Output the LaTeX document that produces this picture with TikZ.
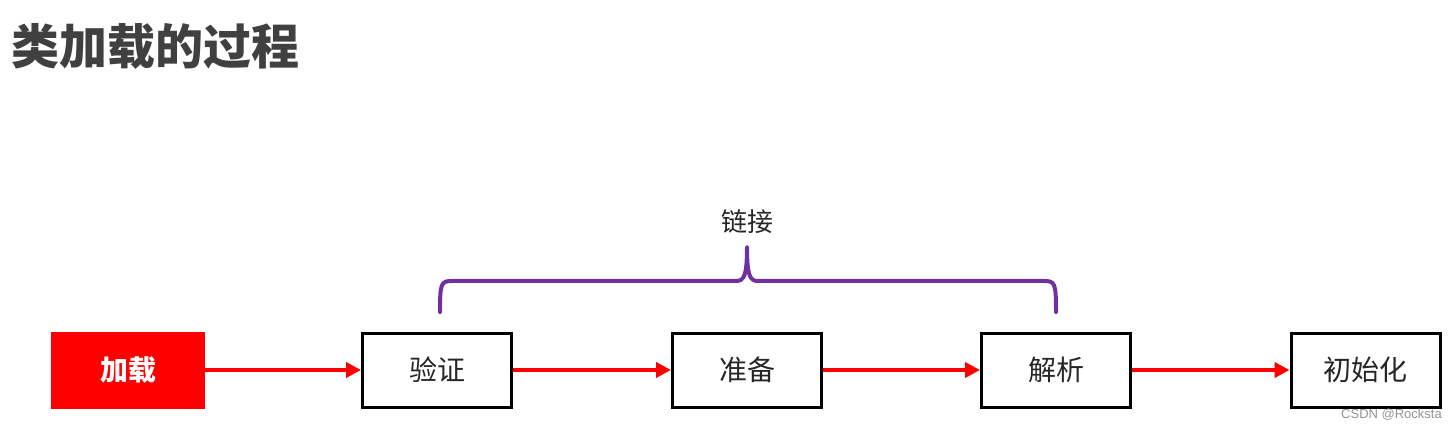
\documentclass[tikz,border=0pt]{standalone}
\usepackage{fontspec}
\usetikzlibrary{arrows.meta}
\newfontfamily\cjk{Noto Sans CJK SC}
\newfontfamily\marksans{Liberation Sans}
\definecolor{titlegray}{HTML}{404040}
\definecolor{bracepurple}{HTML}{7030A0}
\definecolor{boxtext}{HTML}{262626}

\tikzset{
  stepbox/.style={draw=black, line width=3pt, minimum width=149pt, minimum height=74pt,
    inner sep=0pt, text=boxtext, font=\cjk\fontsize{28}{32}\selectfont},
  loadbox/.style={fill=red, minimum width=154pt, minimum height=77pt, inner sep=0pt,
    outer sep=0pt, text=white, font=\cjk\bfseries\fontsize{28}{32}\selectfont},
  flow/.style={draw=red, line width=4pt, -{Triangle[length=15pt, width=15pt]}},
  brace/.style={draw=bracepurple, line width=4pt, line cap=round, line join=round},
}

\begin{document}
\begin{tikzpicture}[x=1pt, y=-1pt]
  \useasboundingbox (0,0) rectangle (1456,430);
  % title
  \node[anchor=west, inner sep=0pt, text=titlegray, font=\cjk\bfseries\fontsize{48}{52}\selectfont] (title) at (11,47) {类加载的过程};
  % steps
  \node[loadbox] (load) at (128,370) {加载};
  \node[stepbox] (verify) at (437,370) {验证};
  \node[stepbox] (prepare) at (747,370) {准备};
  \node[stepbox] (resolve) at (1056,370) {解析};
  \node[stepbox] (init) at (1365.5,370) {初始化};
  \draw[flow] (load.east) -- (verify.west);
  \draw[flow] (verify.east) -- (prepare.west);
  \draw[flow] (prepare.east) -- (resolve.west);
  \draw[flow] (resolve.east) -- (init.west);
  % brace over the linking steps
  \coordinate (bl) at (440,312);
  \coordinate (tip) at (747,247);
  \coordinate (br) at (1056,312);
  \draw[brace] (bl) .. controls (440,283) and (441,281) .. (452,281) -- (736,281)
    .. controls (744,281) and (747,276) .. (tip)
    .. controls (747,276) and (750,281) .. (758,281) -- (1044,281)
    .. controls (1055,281) and (1056,283) .. (br);
  \node[text=boxtext, font=\cjk\fontsize{26}{30}\selectfont] (link) at (747,222) {链接};
  % watermark
  \node[anchor=east, inner sep=0pt, text=gray!85, font=\marksans\fontsize{13}{15}\selectfont] (mark) at (1442,415) {CSDN @Rocksta};
\end{tikzpicture}
\end{document}
